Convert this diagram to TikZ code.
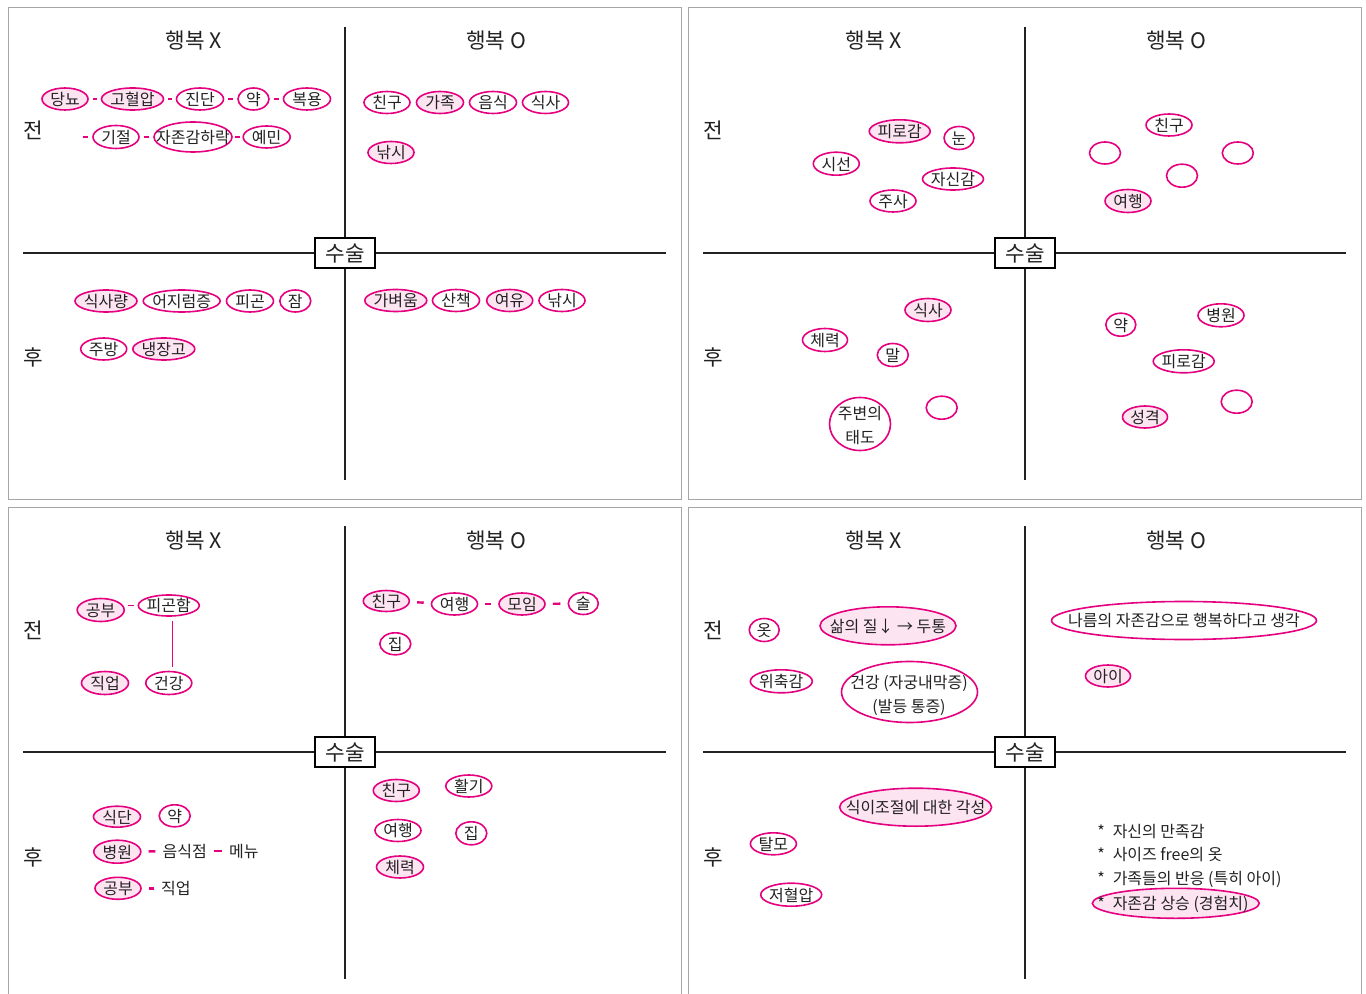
\documentclass[tikz,border=0pt]{standalone}
\usepackage{fontspec}
\setmainfont{Noto Sans CJK KR}
\usetikzlibrary{shapes.geometric}
\definecolor{mag}{HTML}{E4007F}
\definecolor{pk}{HTML}{FDE4F1}
\definecolor{frm}{HTML}{A6A6A6}
\definecolor{ink}{HTML}{222222}
\newcommand\Tx[1]{\makebox[0pt]{#1}}
\newcommand\fs{\fontsize{12pt}{14pt}\selectfont}
\newcommand\fh{\fontsize{16pt}{19pt}\selectfont}
\newcommand\Panel[3]{%
 \begin{scope}[shift={(#1,#2)}]
  \draw[frm, line width=0.75pt] (8,8) rectangle (681,499);
  \node[qbox] (#3box) at (345,253) {수술};
  \coordinate (#3t) at (345,27); \coordinate (#3b) at (345,480);
  \coordinate (#3l) at (23,253); \coordinate (#3r) at (666,253);
  \draw[axis] (#3t) -- (#3box.north);
  \draw[axis] (#3box.south) -- (#3b);
  \draw[axis] (#3l) -- (#3box.west);
  \draw[axis] (#3box.east) -- (#3r);
  \node[hd] (#3hx) at (194,40) {행복 X};
  \node[hd] (#3ho) at (496,40) {행복 O};
  \node[hd] (#3pre) at (33,130) {전};
  \node[hd] (#3post) at (33,357) {후};
 \end{scope}}
\begin{document}
\begin{tikzpicture}[x=0.75pt,y=-0.75pt,
  ov/.style 2 args={ellipse, draw=mag, line width=1.2pt, fill=white, inner sep=0pt,
    minimum width=#1*0.75pt, minimum height=#2*0.75pt, text height=9.6pt, text depth=0pt,
    font=\fs, text=ink},
  ovf/.style 2 args={ov={#1}{#2}, fill=pk},
  txt/.style={inner sep=0pt, font=\fs, text height=9.6pt, text depth=0pt, text=ink},
  hd/.style={inner sep=0pt, font=\fh, text height=13.5pt, text depth=0pt, text=ink},
  qbox/.style={draw=black, line width=1pt, fill=white, minimum width=45pt, minimum height=22.5pt,
    inner sep=0pt, font=\fh, text height=13pt, text depth=0pt, text=ink},
  axis/.style={line width=0.9pt, draw=ink},
  dsa/.style={draw=mag, line width=1.2pt, shorten <=3pt, shorten >=3pt},
  dsb/.style={draw=mag, line width=1.8pt, shorten <=5.3pt, shorten >=5.3pt},
  vl/.style={draw=mag, line width=1.1pt, shorten <=3pt, shorten >=3pt}]
\useasboundingbox (0,0) rectangle (1366,994);
\fill[white] (0,0) rectangle (1366,994);

\Panel{0}{0}{pa}
\Panel{680}{0}{pb}
\Panel{0}{499}{pc}
\Panel{680}{499}{pd}

% ---------- panel 1 ----------
\node[ovf={46}{22}] (a1) at (65,99) {\Tx{당뇨}};
\node[ovf={62}{22}] (a2) at (132.5,99) {\Tx{고혈압}};
\node[ov={47}{22}] (a3) at (200,99) {\Tx{진단}};
\node[ov={31}{22}] (a4) at (253.5,99) {\Tx{약}};
\node[ov={47}{22}] (a5) at (307,99) {\Tx{복용}};
\draw[dsa] (a1) -- (a2);
\draw[dsa] (a2) -- (a3);
\draw[dsa] (a3) -- (a4);
\draw[dsa] (a4) -- (a5);
\coordinate (a6s) at (82.7,137);
\node[ov={46}{23}] (a6) at (116,137) {\Tx{기절}};
\node[ov={78}{30}] (a7) at (193,137) {\Tx{자존감하락}};
\node[ov={47}{22}] (a8) at (266.7,137) {\Tx{예민}};
\draw[dsa, shorten <=0pt] (a6s) -- (a6);
\draw[dsa] (a6) -- (a7);
\draw[dsa, shorten <=1.6pt, shorten >=2pt] (a7) -- (a8);

\node[ov={46}{22}] (a9) at (387,102.5) {\Tx{친구}};
\node[ovf={47}{22}] (a10) at (440,102.5) {\Tx{가족}};
\node[ov={47}{22}] (a11) at (493,102.5) {\Tx{음식}};
\node[ov={46}{22}] (a12) at (545.5,102.5) {\Tx{식사}};
\node[ovf={46}{22}] (a13) at (391,152.5) {\Tx{낚시}};

\node[ovf={62}{22}] (a14) at (106,301) {\Tx{식사량}};
\node[ov={77}{22}] (a15) at (181.7,301) {\Tx{어지럼증}};
\node[ov={47}{22}] (a16) at (250,301) {\Tx{피곤}};
\node[ov={31}{22}] (a17) at (295.3,301) {\Tx{잠}};
\node[ov={46}{22}] (a18) at (103.7,349) {\Tx{주방}};
\node[ovf={62}{22}] (a19) at (163.8,349) {\Tx{냉장고}};

\node[ovf={62}{22}] (a20) at (395.8,300.5) {\Tx{가벼움}};
\node[ov={47}{22}] (a21) at (456,300.5) {\Tx{산책}};
\node[ovf={46}{22}] (a22) at (509.7,300.5) {\Tx{여유}};
\node[ov={46}{22}] (a23) at (562,300.5) {\Tx{낚시}};

% ---------- panel 2 ----------
\node[ovf={61}{23}] (b1) at (899.7,131.3) {\Tx{피로감}};
\node[ov={30}{23}] (b2) at (959,138) {\Tx{눈}};
\node[ov={46}{23}] (b3) at (836.3,163.7) {\Tx{시선}};
\node[ov={61}{22}] (b4) at (953,179) {\Tx{자신감}};
\node[ov={46}{22}] (b5) at (893,201) {\Tx{주사}};
\node[ov={46}{22}] (b6) at (1169,125) {\Tx{친구}};
\node[ov={31}{22}] (b7) at (1105,153) {};
\node[ov={31}{22}] (b8) at (1237.8,153) {};
\node[ov={31}{23}] (b9) at (1182,175.7) {};
\node[ovf={46}{23}] (b10) at (1128,201) {\Tx{여행}};

\node[ovf={46}{23}] (b11) at (928,310) {\Tx{식사}};
\node[ov={45}{23}] (b12) at (825,340) {\Tx{체력}};
\node[ov={31}{23}] (b13) at (892.8,355) {\Tx{말}};
\node[ov={61}{53}] (b14) at (860,424) {};
\node[txt] (b14a) at (860,413) {주변의};
\node[txt] (b14b) at (860,437) {태도};
\node[ov={31}{23}] (b15) at (941.7,407.7) {};
\node[ov={30}{23}] (b16) at (1120.8,324.7) {\Tx{약}};
\node[ov={46}{23}] (b17) at (1221,315.3) {\Tx{병원}};
\node[ov={61}{23}] (b18) at (1183.7,361.3) {\Tx{피로감}};
\node[ov={31}{23}] (b19) at (1236.7,401.7) {};
\node[ovf={45}{22}] (b20) at (1145,417) {\Tx{성격}};

% ---------- panel 3 ----------
\node[ovf={47}{23}] (c1) at (100.7,610) {\Tx{공부}};
\node[ov={61}{21}] (c2) at (168.8,605.5) {\Tx{피곤함}};
\draw[dsa, shorten <=2pt, shorten >=3pt] (c2.west -| c1.east) -- (c2.west);
\node[ovf={47}{23}] (c3) at (105,683) {\Tx{직업}};
\node[ov={46}{23}] (c4) at (168.8,683) {\Tx{건강}};
\draw[vl] ([xshift=2.6pt]c2.south) -- ([xshift=2.6pt]c4.north);

\node[ovf={46}{21}] (c5) at (386.3,601) {\Tx{친구}};
\node[ov={46}{22}] (c6) at (454.5,604) {\Tx{여행}};
\node[ovf={46}{22}] (c7) at (522,604) {\Tx{모임}};
\node[ov={30}{22}] (c8) at (583.3,603.5) {\Tx{술}};
\draw[dsb] (c5) -- (c6);
\draw[dsb] (c6) -- (c7);
\draw[dsb] (c7) -- (c8);
\node[ov={31}{22}] (c9) at (395.3,643.8) {\Tx{집}};

\node[ovf={47}{21}] (c10) at (117,816.7) {\Tx{식단}};
\node[ov={31}{22}] (c11) at (174.7,815.8) {\Tx{약}};
\node[ovf={47}{23}] (c12) at (117.3,851.7) {\Tx{병원}};
\node[txt] (c13) at (184.7,851) {음식점};
\node[txt] (c14) at (243.8,851) {메뉴};
\draw[dsb] (c12) -- (c13);
\draw[dsb] (c13) -- (c14);
\node[ovf={46}{22}] (c15) at (118,888.3) {\Tx{공부}};
\node[txt] (c16) at (175.8,888.3) {직업};
\draw[dsb] (c15) -- (c16);

\node[ovf={46}{22}] (c17) at (396.3,790.5) {\Tx{친구}};
\node[ov={46}{22}] (c18) at (468.8,786) {\Tx{활기}};
\node[ov={46}{22}] (c19) at (398,830.5) {\Tx{여행}};
\node[ov={31}{23}] (c20) at (471.3,833.3) {\Tx{집}};
\node[ovf={47}{22}] (c21) at (400,867) {\Tx{체력}};

% ---------- panel 4 ----------
\node[ov={30}{23}] (d1) at (764.2,630) {\Tx{옷}};
\node[ovf={136}{38}] (d2) at (888,625.8) {\Tx{삶의 질↓ → 두통}};
\node[ov={62}{23}] (d3) at (781.3,681.3) {\Tx{위축감}};
\node[ov={136}{61}] (d4) at (909.5,692) {};
\node[txt] (d4a) at (909,682) {건강 (자궁내막증)};
\node[txt] (d4b) at (909,706) {(발등 통증)};
\node[ov={265}{38}] (d5) at (1184,620.5) {\Tx{나름의 자존감으로 행복하다고 생각}};
\node[ovf={45}{22}] (d6) at (1108,676) {\Tx{아이}};
\node[ovf={152}{38}] (d7) at (915.6,807.2) {\Tx{식이조절에 대한 각성}};
\node[ov={46}{22}] (d8) at (773.4,843.8) {\Tx{탈모}};
\node[ov={61}{23}] (d9) at (791.2,894.7) {\Tx{저혈압}};
\node[txt, anchor=west] (d10) at (1097,830.7) {*\enspace 자신의 만족감};
\node[txt, anchor=west] (d11) at (1097,854.5) {*\enspace 사이즈 free의 옷};
\node[txt, anchor=west] (d12) at (1097,878.3) {*\enspace 가족들의 반응 (특히 아이)};
\node[ovf={167}{30}] (d13) at (1175.8,903.3) {\makebox[0pt][l]{\hspace*{-58.9pt}*\enspace 자존감 상승 (경험치)}};
\end{tikzpicture}
\end{document}
